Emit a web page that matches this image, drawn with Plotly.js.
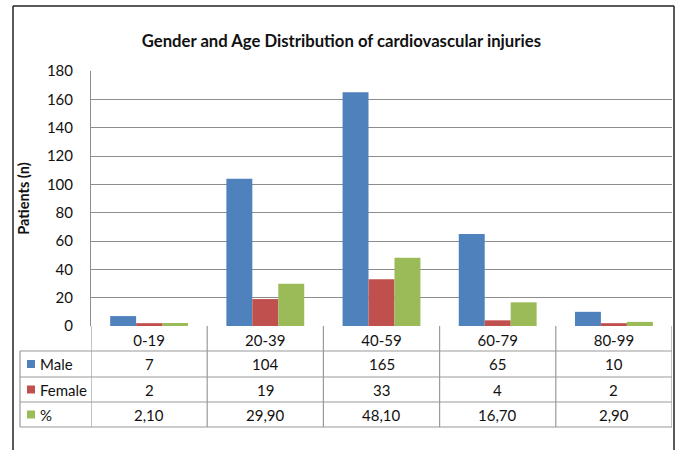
<!DOCTYPE html>
<html>
<head>
<meta charset="utf-8">
<script src="https://cdn.plot.ly/plotly-3.0.1.min.js"></script>
<style>html,body{margin:0;padding:0;background:#fff;}#chart{width:680px;height:450px;}</style>
</head>
<body>
<div id="chart"></div>
<script>
const categories = ["0-19", "20-39", "40-59", "60-79", "80-99"];
const male = [7, 104, 165, 65, 10];
const female = [2, 19, 33, 4, 2];
const percent = [2.10, 29.90, 48.10, 16.70, 2.90];
const seriesNames = ["Male", "Female", "%"];
const yTicks = [0, 20, 40, 60, 80, 100, 120, 140, 160, 180];

const colors = ["#4F81BD", "#C0504D", "#9BBB59"];
const FONT = "Lato, 'Open Sans', sans-serif";
const series = [male, female, percent];

const traces = series.map((vals, i) => ({
  type: "bar", x: categories, y: vals, name: seriesNames[i],
  marker: {color: colors[i]}, hoverinfo: "none"
}));

// pixel helpers (plot area: x 91..672, y 71..326)
const L = 91, R = 672, T = 71, B = 326;
const px = x => (x - L) / (R - L);
const py = y => (B - y) / (B - T);

const rowBottoms = [351, 377, 402, 427];
const tableLeft = 20;
const gridCol = "#9a9a9a";
const shapes = [];
// outer border
shapes.push({type: "line", xref: "paper", yref: "paper", x0: px(13), x1: px(13), y0: py(6), y1: py(460), line: {color: "#222", width: 1.5}});
shapes.push({type: "line", xref: "paper", yref: "paper", x0: px(13), x1: px(674), y0: py(6), y1: py(6), line: {color: "#222", width: 1.5}});
shapes.push({type: "line", xref: "paper", yref: "paper", x0: px(674), x1: px(674), y0: py(6), y1: py(460), line: {color: "#222", width: 1.5}});
// table horizontal lines
rowBottoms.forEach((yb) => {
  shapes.push({type: "line", xref: "paper", yref: "paper", x0: px(tableLeft), x1: 1, y0: py(yb), y1: py(yb), line: {color: gridCol, width: 1.2}});
});
// vertical lines
categories.forEach((c, i) => {
  shapes.push({type: "line", xref: "x", yref: "paper", x0: i - 0.5, x1: i - 0.5, y0: py(rowBottoms[3]), y1: 0, line: {color: gridCol, width: 1.2}});
});
shapes.push({type: "line", xref: "x", yref: "paper", x0: categories.length - 0.5, x1: categories.length - 0.5, y0: py(rowBottoms[3]), y1: 0, line: {color: gridCol, width: 1.2}});
shapes.push({type: "line", xref: "paper", yref: "paper", x0: px(tableLeft), x1: px(tableLeft), y0: py(rowBottoms[3]), y1: py(rowBottoms[0]), line: {color: gridCol, width: 1.2}});

const annotations = [];
const fmt = [v => String(v), v => String(v), v => v.toFixed(2).replace(".", ",")];
series.forEach((vals, r) => {
  const top = rowBottoms[r], bot = rowBottoms[r + 1];
  const yc = py((top + bot) / 2);
  // legend key
  shapes.push({type: "rect", xref: "paper", yref: "paper", x0: px(27), x1: px(35), y0: yc - 4 / (B - T), y1: yc + 4 / (B - T), fillcolor: colors[r], line: {width: 0}});
  annotations.push({xref: "paper", yref: "paper", x: px(38), y: yc, xanchor: "left", yanchor: "middle", text: seriesNames[r], showarrow: false, font: {family: FONT, size: 15, color: "#111"}});
  vals.forEach((v, i) => {
    annotations.push({xref: "x", yref: "paper", x: i, y: yc, xanchor: "center", yanchor: "middle", text: fmt[r](v), showarrow: false, font: {family: FONT, size: 15, color: "#111"}});
  });
});

const layout = {
  width: 680, height: 450,
  margin: {l: L, r: 680 - R, t: T, b: 450 - B, pad: 0},
  paper_bgcolor: "#fff", plot_bgcolor: "#fff",
  showlegend: false,
  barmode: "group", bargap: 0.33, bargroupgap: 0,
  title: {text: "<b>Gender and Age Distribution of cardiovascular injuries</b>", x: 0.502, xref: "container", xanchor: "center", y: 1 - 41 / 450, yanchor: "middle", font: {family: FONT, size: 16.7, color: "#111"}},
  xaxis: {type: "category", range: [-0.5, 4.5], showgrid: false, zeroline: false, showline: false, ticks: "", tickfont: {family: FONT, size: 15, color: "#111"}, ticklabelstandoff: 4, automargin: false, fixedrange: true},
  yaxis: {range: [0, 180], tickvals: yTicks, showgrid: true, gridcolor: "#8c8c8c", gridwidth: 1, zeroline: false, showline: true, linecolor: "#8c8c8c", linewidth: 1, ticks: "", ticklabelstandoff: 14, tickfont: {family: FONT, size: 15, color: "#111"}, automargin: false,
    title: {text: "<b>Patients (n)</b>", font: {family: FONT, size: 14.5, color: "#111"}, standoff: 13}},
  shapes: shapes, annotations: annotations
};

Plotly.newPlot("chart", traces, layout, {displayModeBar: false, staticPlot: true});
</script>
</body>
</html>
